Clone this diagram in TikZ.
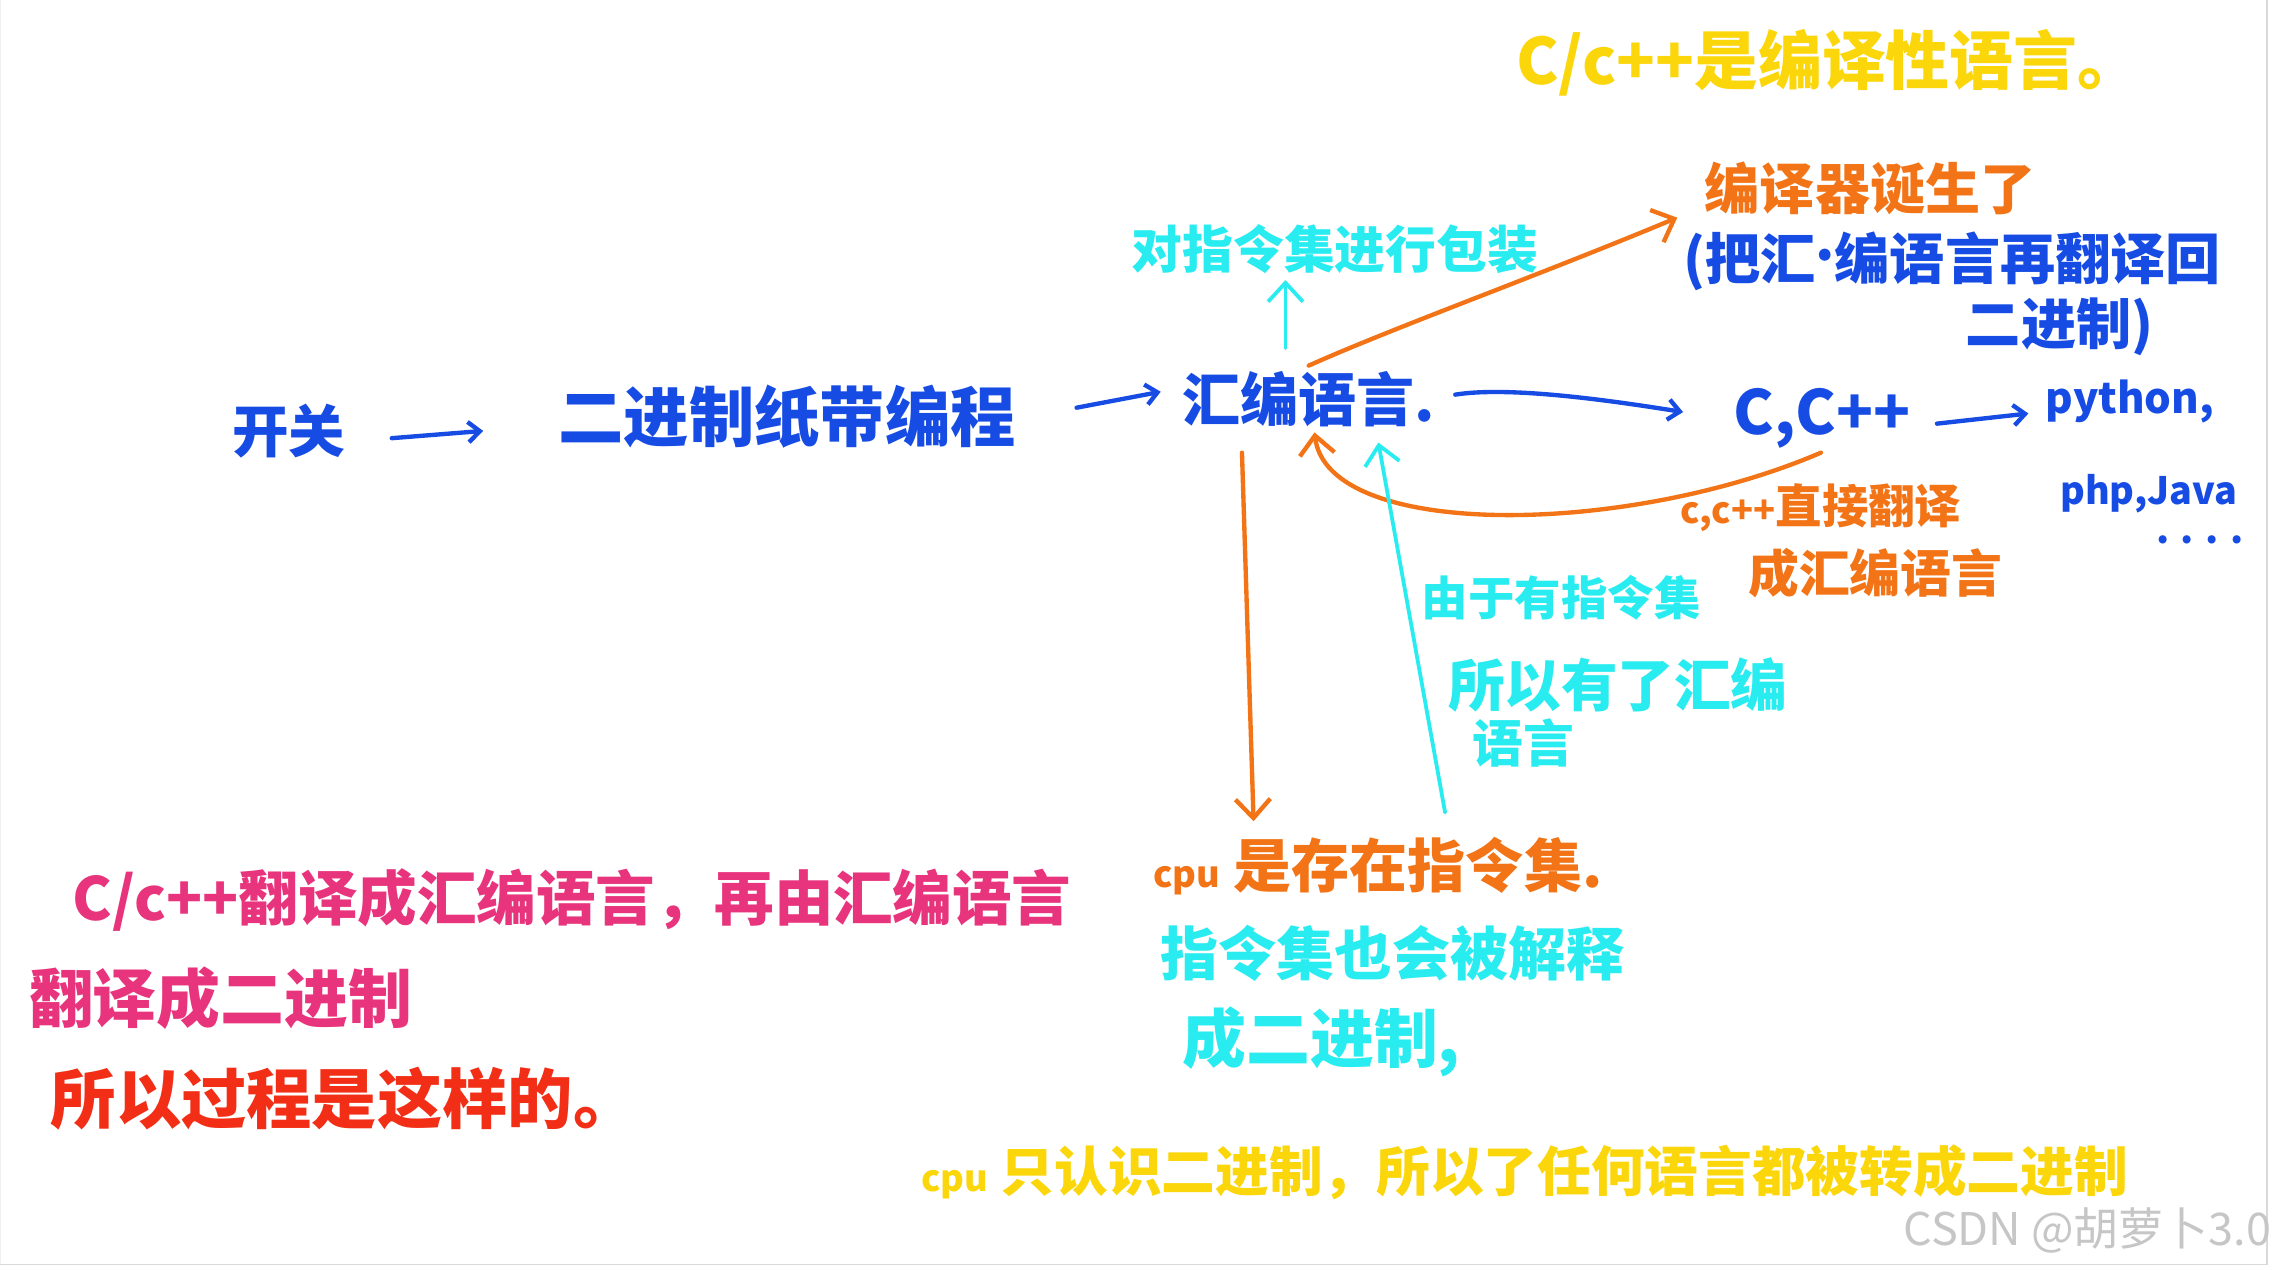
\documentclass[tikz,border=0pt]{standalone}
\usepackage{fontspec}
\newfontfamily\cjk{Noto Sans CJK SC}
\usetikzlibrary{arrows.meta}
\definecolor{hblue}{RGB}{22,76,228}
\definecolor{horange}{RGB}{242,116,22}
\definecolor{hcyan}{RGB}{40,236,240}
\definecolor{hyellow}{RGB}{250,214,10}
\definecolor{hmag}{RGB}{232,52,124}
\definecolor{hred}{RGB}{242,46,22}
\tikzset{
  fs/.style={font={\cjk\bfseries\fontsize{#1}{#1}\selectfont}},
  txt/.style={anchor=west, inner sep=0pt, outer sep=0pt},
  hand/.style={line width=3pt, line cap=round, line join=round},
  barbS/.style={-{Straight Barb[length=8pt,width=14pt]}},
  barbL/.style={-{Straight Barb[length=13pt,width=24pt]}},
}
\begin{document}
\begin{tikzpicture}[x=1pt,y=-1pt]
\useasboundingbox (0,0) rectangle (1568,875);
\fill[white] (0,0) rectangle (1568,875);
% screenshot frame
\draw[gray!12, line width=1pt] (0.5,0) -- (0.5,872);
\draw[gray!30, line width=1.2pt] (1562.5,0) -- (1562.5,871.5) -- (0,871.5);

% ---------- texts ----------
\node[txt, fs=44, text=hyellow] (title) at (1045,43) {C/c++是编译性语言。};
\node[txt, fs=38, text=horange] (bz) at (1175,130) {编译器诞生了};
\node[txt, fs=38, text=hblue] (bz2) at (1160,180) {(把汇\raisebox{0.35em}{.}编语言再翻译回};
\node[txt, fs=38, text=hblue] (bz3) at (1355,225) {二进制)};
\node[txt, fs=35, text=hcyan] (dz) at (780,172) {对指令集进行包装};

\node[txt, fs=39, text=hblue] (kg) at (160,297) {开关};
\node[txt, fs=45, text=hblue] (zd) at (385,287) {二进制纸带编程};
\node[txt, fs=40, text=hblue] (hb) at (815,275) {汇编语言.};
\node[txt, fs=42, text=hblue] (cc) at (1195,288) {C,C++};
\node[txt, fs=29, text=hblue] (py) at (1410,277) {python,};
\node[txt, fs=26, text=hblue] (php) at (1420,340) {php,Java};
\node[txt, fs=26, text=hblue] (dots) at (1486,372) {. . . .};

\node[txt, fs=32, text=horange] (cz) at (1158,350) {{\fontsize{25}{25}\selectfont c,c++}直接翻译};
\node[txt, fs=35, text=horange] (cz2) at (1205,395) {成汇编语言};

\node[txt, fs=32, text=hcyan] (yz) at (980,412) {由于有指令集};
\node[txt, fs=39, text=hcyan] (yz2) at (998,472) {所以有了汇编};
\node[txt, fs=35, text=hcyan] (yz3) at (1015,512) {语言};

\node[txt, fs=40, text=horange] (cpu) at (795,597) {{\fontsize{25}{25}\selectfont cpu} 是存在指令集.};
\node[txt, fs=40, text=hcyan] (zl) at (800,657) {指令集也会被解释};
\node[txt, fs=44, text=hcyan] (ce) at (815,718) {成二进制,};

\node[txt, fs=41, text=hmag] (mg1) at (50,620) {C/c++翻译成汇编语言，再由汇编语言};
\node[txt, fs=44, text=hmag] (mg2) at (20,688) {翻译成二进制};
\node[txt, fs=45, text=hred] (gc) at (35,757) {所以过程是这样的。};

\node[txt, fs=37, text=hyellow] (bot) at (635,808) {{\fontsize{25}{25}\selectfont cpu} 只认识二进制，所以了任何语言都被转成二进制};

\node[txt, font={\cjk\fontsize{31}{31}\selectfont}, text=gray!45] (wm) at (1312,848) {CSDN @胡萝卜3.0};

% ---------- connectors ----------
\draw[hand, barbS, hblue] ([shift={(32,5)}]kg.east) -- ([shift={(-52,10)}]zd.west);
\draw[hand, barbS, hblue] ([shift={(42,-6)}]zd.east) -- ([shift={(-15,-5)}]hb.west);
\draw[hand, barbS, hblue] ([shift={(188,-3)}]hb.west) .. controls (1040,266) and (1110,276) .. ([shift={(-35,-4)}]cc.west);
\draw[hand, barbS, hblue] ([shift={(140,4)}]cc.west) -- ([shift={(-12,8)}]py.west);

\draw[hand, barbL, hcyan, line width=2.6pt] ([shift={(71,-35)}]hb.west) -- ([shift={(106,21)}]dz.west);
\draw[hand, barbL, horange] ([shift={(87,-23)}]hb.west) .. controls (960,226) and (1060,190) .. ([shift={(-19,20)}]bz.west);
\draw[hand, barbL, horange] ([shift={(60,24)}]cc.west) .. controls (1120,370) and (915,372) .. ([shift={(91,23)}]hb.west);
\draw[hand, barbL, horange] ([shift={(41,37)}]hb.west) -- ([shift={(69,-31)}]cpu.west);
\draw[hand, barbL, hcyan, line width=2.6pt] ([shift={(201,-37)}]cpu.west) -- ([shift={(135,30)}]hb.west);
\end{tikzpicture}
\end{document}
